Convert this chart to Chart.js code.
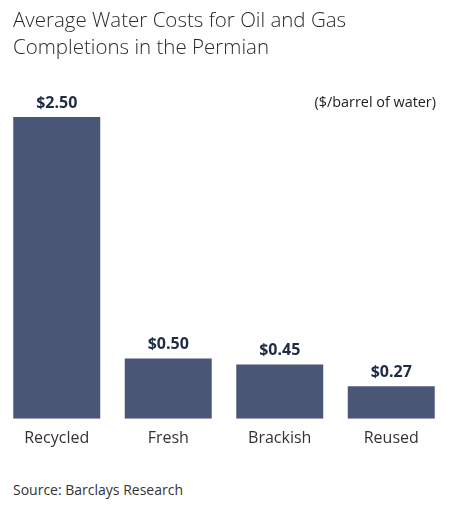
<!DOCTYPE html>
<html>
<head>
<meta charset="utf-8">
<script src="https://cdn.jsdelivr.net/npm/chart.js@4/dist/chart.umd.min.js"></script>
<style>
  html, body { margin: 0; padding: 0; background: #fff; width: 450px; height: 506px; overflow: hidden; }
  #title { position: absolute; left: 13px; top: 6px; font-family: "Open Sans", sans-serif; font-weight: 300; font-size: 20.5px; line-height: 27px; color: #2b2b2b; }
  #unit { position: absolute; right: 14px; top: 92px; font-family: "Open Sans", sans-serif; font-size: 14.4px; color: #222; }
  #source { position: absolute; left: 13px; top: 480px; font-family: "Open Sans", sans-serif; font-size: 14px; color: #333; }
  #wrap { position: absolute; left: 0; top: 0; width: 450px; height: 460px; }
</style>
</head>
<body>
<div id="wrap"><canvas id="c"></canvas></div>
<div id="title">Average Water Costs for Oil and Gas<br>Completions in the Permian</div>
<div id="unit">($/barrel of water)</div>
<div id="source">Source: Barclays Research</div>
<script>
const categories = ["Recycled", "Fresh", "Brackish", "Reused"];
const costs = [2.50, 0.50, 0.45, 0.27];
const valueLabels = ["$2.50", "$0.50", "$0.45", "$0.27"];

const valueLabelPlugin = {
  id: 'valueLabels',
  afterDatasetsDraw(chart) {
    const ctx = chart.ctx;
    const meta = chart.getDatasetMeta(0);
    ctx.save();
    ctx.font = 'bold 16px "Open Sans", sans-serif';
    ctx.fillStyle = '#1d2b45';
    ctx.textAlign = 'center';
    ctx.textBaseline = 'alphabetic';
    meta.data.forEach((bar, i) => {
      ctx.fillText(valueLabels[i], bar.x, bar.y - 9);
    });
    ctx.restore();
  }
};

new Chart(document.getElementById('c'), {
  type: 'bar',
  data: {
    labels: categories,
    datasets: [{
      data: costs,
      backgroundColor: '#4a5675',
      borderWidth: 0,
      categoryPercentage: 0.78,
      barPercentage: 1.0
    }]
  },
  options: {
    responsive: true,
    maintainAspectRatio: false,
    animation: false,
    layout: { padding: { top: 117, left: 1, right: 3, bottom: 10 } },
    plugins: { legend: { display: false }, tooltip: { enabled: false } },
    scales: {
      x: {
        grid: { display: false },
        border: { display: false },
        ticks: { color: '#333', font: { family: '"Open Sans", sans-serif', size: 16 }, padding: 2 }
      },
      y: {
        display: false,
        min: 0,
        max: 2.5
      }
    }
  },
  plugins: [valueLabelPlugin]
});
</script>
</body>
</html>
